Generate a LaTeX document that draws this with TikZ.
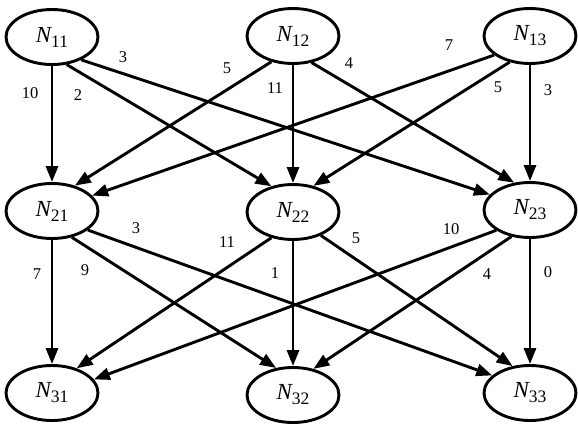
\documentclass[tikz,border=0pt]{standalone}
\usepackage{fontspec}
\setmainfont{Liberation Serif}
\usetikzlibrary{arrows.meta,shapes.geometric}
\newcommand\Nlab[1]{{\fontsize{23}{23}\selectfont\itshape N}\raisebox{-5pt}{\fontsize{17.5}{17.5}\selectfont #1}}
\begin{document}
\begin{tikzpicture}[x=1pt,y=-1pt,
  nd/.style={ellipse,draw,line width=2.9pt,minimum width=92pt,minimum height=55pt,inner sep=0pt},
  ed/.style={line width=2.9pt,-{Triangle[length=16pt,width=12pt]}},
  wt/.style={font=\fontsize{16.5}{16.5}\selectfont,inner sep=0pt}]
\useasboundingbox (0,0) rectangle (578,424);
\node[nd] (n11) at (52,37) {\Nlab{11}};
\node[nd] (n12) at (293,36) {\Nlab{12}};
\node[nd] (n13) at (530,36) {\Nlab{13}};
\node[nd] (n21) at (52,211) {\Nlab{21}};
\node[nd] (n22) at (293,212) {\Nlab{22}};
\node[nd] (n23) at (530,210) {\Nlab{23}};
\node[nd] (n31) at (52,393) {\Nlab{31}};
\node[nd] (n32) at (293,395) {\Nlab{32}};
\node[nd] (n33) at (530,393) {\Nlab{33}};
% top -> middle
\draw[ed] (n11.-90) -- (n21.90);
\draw[ed] (n11.-62) -- (n22.130);
\draw[ed] (n11.-38) -- (n23.159);
\draw[ed] (n12.-130) -- (n21.48);
\draw[ed] (n12.-90) -- (n22.90);
\draw[ed] (n12.-55) -- (n23.120);
\draw[ed] (n13.-152) -- (n21.21);
\draw[ed] (n13.-128) -- (n22.52);
\draw[ed] (n13.-90) -- (n23.90);
% middle -> bottom
\draw[ed] (n21.-90) -- (n31.90);
\draw[ed] (n21.-53) -- (n32.122);
\draw[ed] (n21.-28) -- (n33.155);
\draw[ed] (n22.-130) -- (n31.45);
\draw[ed] (n22.-90) -- (n32.90);
\draw[ed] (n22.-40) -- (n33.123);
\draw[ed] (n23.-149) -- (n31.18);
\draw[ed] (n23.-125) -- (n32.52);
\draw[ed] (n23.-90) -- (n33.90);
% weights
\node[wt] (w1) at (30,93) {10};
\node[wt] (w2) at (78,95) {2};
\node[wt] (w3) at (123,57) {3};
\node[wt] (w4) at (227,68) {5};
\node[wt] (w5) at (275,88) {11};
\node[wt] (w6) at (349,63) {4};
\node[wt] (w7) at (449,45) {7};
\node[wt] (w8) at (498,87) {5};
\node[wt] (w9) at (548,90) {3};
\node[wt] (v1) at (136,228) {3};
\node[wt] (v2) at (227,242) {11};
\node[wt] (v3) at (37,274) {7};
\node[wt] (v4) at (85,270) {9};
\node[wt] (v5) at (275,273) {1};
\node[wt] (v6) at (356,238) {5};
\node[wt] (v7) at (451,229) {10};
\node[wt] (v8) at (487,274) {4};
\node[wt] (v9) at (548,272) {0};
\end{tikzpicture}
\end{document}
